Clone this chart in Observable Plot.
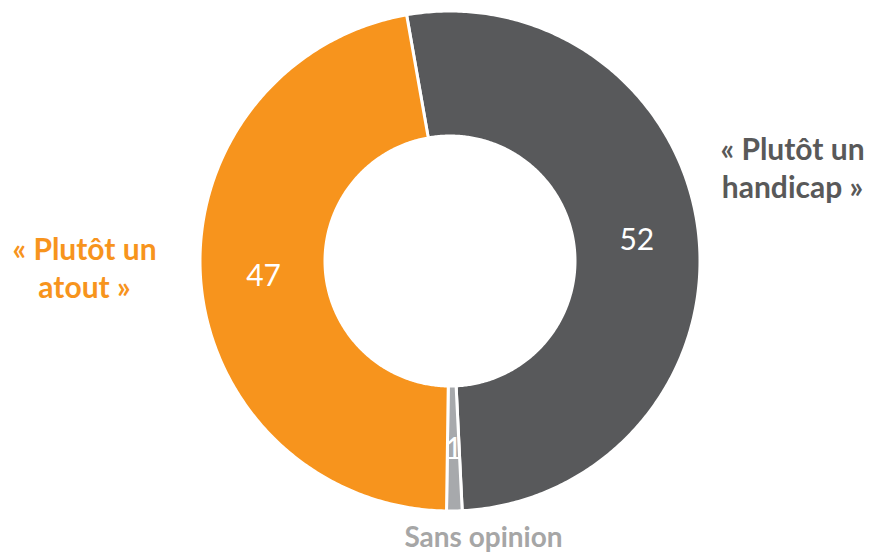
<!DOCTYPE html>
<html><head><meta charset="utf-8">
<script src="https://cdn.jsdelivr.net/npm/d3@7"></script>
<script src="https://cdn.jsdelivr.net/npm/@observablehq/plot@0.6"></script>
<style>body{margin:0;background:#fff}</style>
</head><body><div id="chart"></div>
<script>
// Data
const categories = ["handicap", "sans", "atout"];
const values = [52, 1, 47];
const valueLabels = ["52", "1", "47"];
const categoryLabels = ["« Plutôt un\nhandicap »", "Sans opinion", "« Plutôt un\natout »"];
const colors = ["#58595B", "#A7A9AC", "#F7941D"];
const labelColors = ["#595959", "#A6A6A6", "#F7941D"];
const labelSizes = [30, 28, 30];
// label anchors in chart units (radius = 1)
const labelX = [1.368, 0.132, -1.464];
const labelY = [0.378, -1.108, -0.022];

const startDeg = -10;
const innerR = 0.5, outerR = 1, labelR = 0.75;

const pie = d3.pie().sort(null)
  .startAngle(startDeg * Math.PI / 180)
  .endAngle((startDeg + 360) * Math.PI / 180)(values);

const rows = [];
pie.forEach((p, i) => {
  const n = Math.max(4, Math.ceil((p.endAngle - p.startAngle) / 0.01));
  for (let k = 0; k <= n; k++) {
    const a = p.startAngle + (p.endAngle - p.startAngle) * k / n;
    rows.push({cat: categories[i], x1: innerR * Math.sin(a), y1: innerR * Math.cos(a), x2: outerR * Math.sin(a), y2: outerR * Math.cos(a)});
  }
});
const centroids = pie.map((p, i) => {
  const a = (p.startAngle + p.endAngle) / 2;
  return {text: valueLabels[i], x: labelR * Math.sin(a), y: labelR * Math.cos(a)};
});
const outer = categories.map((c, i) => ({text: categoryLabels[i], x: labelX[i], y: labelY[i], color: labelColors[i], size: labelSizes[i]}));

const chart = Plot.plot({
  width: 869, height: 558, margin: 0,
  style: {fontFamily: "Lato, 'Open Sans', sans-serif", background: "#fff"},
  x: {domain: [-1.8, 1.676], axis: null},
  y: {domain: [-1.188, 1.044], axis: null},
  color: {domain: categories, range: colors},
  marks: [
    Plot.area(rows, {x1: "x1", y1: "y1", x2: "x2", y2: "y2", z: "cat", fill: "cat", stroke: "white", strokeWidth: 3}),
    Plot.text(centroids, {x: "x", y: "y", text: "text", fill: "white", fontSize: 30}),
    Plot.text(outer.filter(d => d.size === 30), {x: "x", y: "y", text: "text", fill: "color", fontSize: 30, fontWeight: "bold", lineHeight: 1.25}),
    Plot.text(outer.filter(d => d.size !== 30), {x: "x", y: "y", text: "text", fill: "color", fontSize: 28, fontWeight: "bold"})
  ]
});
document.getElementById("chart").appendChild(chart);
</script>
</body></html>
